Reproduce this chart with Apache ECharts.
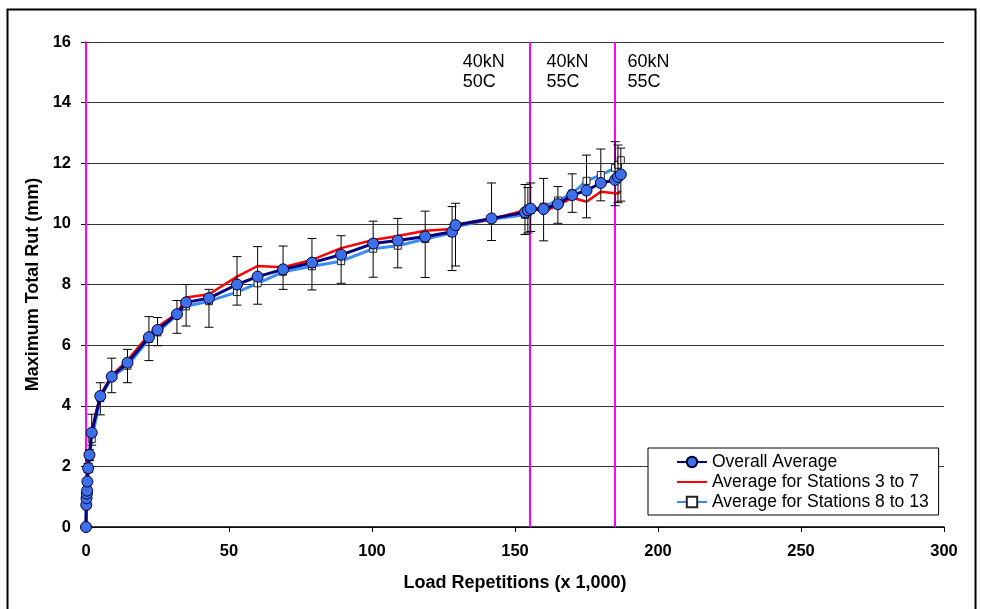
<!DOCTYPE html>
<html>
<head>
<meta charset="utf-8">
<script src="https://cdn.jsdelivr.net/npm/echarts@6/dist/echarts.min.js"></script>
<style>
html,body{margin:0;padding:0;background:#fff;}
#chart{width:981px;height:609px;}
</style>
</head>
<body>
<div id="chart"></div>
<script>
// Load repetitions (x 1,000)
const reps = [0, 0.1, 0.2, 0.3, 0.4, 0.5, 0.75, 1.2, 2, 5, 9, 14.5, 22, 25, 31.8, 35, 43, 52.8, 60, 68.9, 79, 89.2, 100.4, 109, 118.6, 128, 129.2, 141.8, 153.5, 154.5, 155.5, 160, 165, 170, 175, 180, 185, 186, 187];
// Overall average (mm)
const overall = [0, 0.73, 0.95, 1.1, 1.2, 1.5, 1.94, 2.38, 3.11, 4.32, 4.96, 5.42, 6.26, 6.5, 7.02, 7.41, 7.55, 8.0, 8.26, 8.5, 8.72, 8.98, 9.35, 9.45, 9.58, 9.74, 9.96, 10.18, 10.38, 10.45, 10.5, 10.49, 10.65, 10.95, 11.1, 11.35, 11.45, 11.55, 11.63];
// Average for stations 3 to 7
const stations3to7 = [0, 0.75, 0.95, 1.1, 1.25, 1.55, 2.0, 2.45, 3.2, 4.35, 5.0, 5.5, 6.35, 6.6, 7.05, 7.57, 7.68, 8.26, 8.61, 8.57, 8.81, 9.2, 9.47, 9.6, 9.77, 9.83, 9.95, 10.15, 10.45, 10.5, 10.52, 10.4, 10.62, 10.86, 10.73, 11.06, 11.01, 11.0, 11.09];
// Average for stations 8 to 13
const stations8to13 = [0, 0.7, 0.9, 1.05, 1.15, 1.45, 1.9, 2.3, 2.9, 4.25, 4.95, 5.32, 6.2, 6.42, 7.0, 7.28, 7.45, 7.75, 8.04, 8.42, 8.6, 8.77, 9.18, 9.28, 9.5, 9.7, 9.9, 10.15, 10.3, 10.4, 10.45, 10.57, 10.77, 11.0, 11.42, 11.61, 11.85, 11.95, 12.1];
// Error bars on the overall average (low, high)
const errLow = [0, 0.65, 0.88, 1.0, 1.1, 1.4, 1.8, 2.2, 2.7, 3.7, 4.43, 4.76, 5.49, 5.98, 6.39, 6.63, 6.59, 7.32, 7.35, 7.84, 7.82, 8.04, 8.24, 8.55, 8.23, 8.46, 8.61, 9.45, 9.65, 9.7, 9.75, 9.44, 10.02, 10.38, 10.2, 10.76, 10.6, 10.7, 10.75];
const errHigh = [0, 0.8, 1.02, 1.2, 1.3, 1.6, 2.1, 2.55, 3.72, 4.76, 5.57, 5.86, 6.94, 6.91, 7.47, 8.0, 7.84, 8.92, 9.25, 9.27, 9.52, 9.61, 10.09, 10.18, 10.42, 10.57, 10.68, 11.35, 11.3, 11.2, 11.35, 11.5, 11.23, 11.65, 12.27, 12.47, 12.71, 12.6, 12.5];
// Test condition change points
const changePoints = [0, 155, 185];
const conditionLabels = [
  {x: 131.7, text: '40kN\n50C'},
  {x: 161, text: '40kN\n55C'},
  {x: 189.3, text: '60kN\n55C'}
];
const xTicks = {min: 0, max: 300, interval: 50};
const yTicks = {min: 0, max: 16, interval: 2};

const FONT = '"Liberation Sans", Arial, sans-serif';
const pair = (arr) => reps.map((r, i) => [r, arr[i]]);
const errData = reps.map((r, i) => [r, errLow[i], errHigh[i]]);

const chart = echarts.init(document.getElementById('chart'), null, {renderer: 'canvas'});
const gridLeft = 86, gridRight = 37, gridTop = 42, gridBottom = 82;
const plotW = 981 - gridLeft - gridRight;

const option = {
  backgroundColor: '#fff',
  animation: false,
  textStyle: {fontFamily: FONT},
  grid: {left: gridLeft, right: gridRight, top: gridTop, bottom: gridBottom, containLabel: false, outerBoundsMode: 'none'},
  legend: {
    orient: 'vertical',
    left: 648, top: 448,
    backgroundColor: '#fff',
    borderColor: '#000', borderWidth: 1,
    padding: [5, 10, 4, 28],
    itemWidth: 30, itemHeight: 13, itemGap: 2,
    textStyle: {fontFamily: FONT, fontSize: 17.5, color: '#000'},
    data: [
      {name: 'Overall Average'},
      {name: 'Average for Stations 3 to 7', itemStyle: {opacity: 0}},
      {name: 'Average for Stations 8 to 13'}
    ]
  },
  xAxis: {
    type: 'value', min: xTicks.min, max: xTicks.max, interval: xTicks.interval,
    name: 'Load Repetitions (x 1,000)', nameLocation: 'middle', nameGap: 47,
    nameTextStyle: {fontFamily: FONT, fontSize: 18, fontWeight: 'bold', color: '#000'},
    axisLine: {lineStyle: {color: '#000', width: 1.5}},
    axisTick: {show: true, inside: false, length: 5, lineStyle: {color: '#000'}},
    axisLabel: {fontFamily: FONT, fontSize: 16.5, fontWeight: 'bold', color: '#000', margin: 16},
    splitLine: {show: false}
  },
  yAxis: {
    type: 'value', min: yTicks.min, max: yTicks.max, interval: yTicks.interval,
    name: 'Maximum Total Rut (mm)', nameLocation: 'middle', nameGap: 44,
    nameTextStyle: {fontFamily: FONT, fontSize: 18, fontWeight: 'bold', color: '#000'},
    axisLine: {show: true, lineStyle: {color: '#000', width: 1.5}},
    axisTick: {show: true, inside: false, length: 5, lineStyle: {color: '#000'}},
    axisLabel: {fontFamily: FONT, fontSize: 16.5, fontWeight: 'bold', color: '#000', margin: 15},
    splitLine: {show: true, lineStyle: {color: '#333', width: 1}}
  },
  series: [
    {
      name: 'Average for Stations 8 to 13', type: 'line', data: pair(stations8to13), z: 2,
      symbol: 'rect', symbolSize: 7, showAllSymbol: true,
      lineStyle: {color: '#3D8BF5', width: 3},
      itemStyle: {color: '#fff', borderColor: '#222', borderWidth: 1}
    },
    {
      name: 'Average for Stations 3 to 7', type: 'line', data: pair(stations3to7), z: 3,
      symbol: 'none',
      lineStyle: {color: '#FF0000', width: 2.5},
      itemStyle: {color: '#FF0000'},
      markLine: {
        silent: true, symbol: 'none', z: 1,
        label: {show: false},
        lineStyle: {color: '#FF00FF', width: 2, type: 'solid'},
        data: changePoints.map(v => ({xAxis: v}))
      }
    },
    {
      name: 'Error', type: 'custom', data: errData, z: 4,
      encode: {x: 0, y: [1, 2]},
      renderItem: function (params, api) {
        const x = api.value(0), lo = api.value(1), hi = api.value(2);
        if (hi - lo <= 0) return null;
        const pt = api.coord([x, hi]), pb = api.coord([x, lo]);
        const w = 4.5;
        const st = {stroke: '#000', lineWidth: 1};
        return {type: 'group', children: [
          {type: 'line', shape: {x1: pt[0], y1: pt[1], x2: pb[0], y2: pb[1]}, style: st},
          {type: 'line', shape: {x1: pt[0] - w, y1: pt[1], x2: pt[0] + w, y2: pt[1]}, style: st},
          {type: 'line', shape: {x1: pb[0] - w, y1: pb[1], x2: pb[0] + w, y2: pb[1]}, style: st}
        ]};
      }
    },
    {
      name: 'Overall Average', type: 'line', data: pair(overall), z: 5,
      symbol: 'circle', symbolSize: 11, showAllSymbol: true,
      lineStyle: {color: '#000080', width: 3},
      itemStyle: {color: '#3D6FEA', borderColor: '#000033', borderWidth: 1}
    }
  ],
  graphic: [
    {type: 'rect', left: 5, top: 7, shape: {width: 968, height: 610}, style: {fill: 'none', stroke: '#000', lineWidth: 2}, silent: true, z: 100}
  ].concat(conditionLabels.map(c => ({
    type: 'text',
    left: gridLeft + (c.x - xTicks.min) / (xTicks.max - xTicks.min) * plotW,
    top: 52,
    style: {text: c.text, fontFamily: FONT, fontSize: 18, lineHeight: 20, fill: '#000'},
    z: 100
  })))
};
chart.setOption(option);
</script>
</body>
</html>
